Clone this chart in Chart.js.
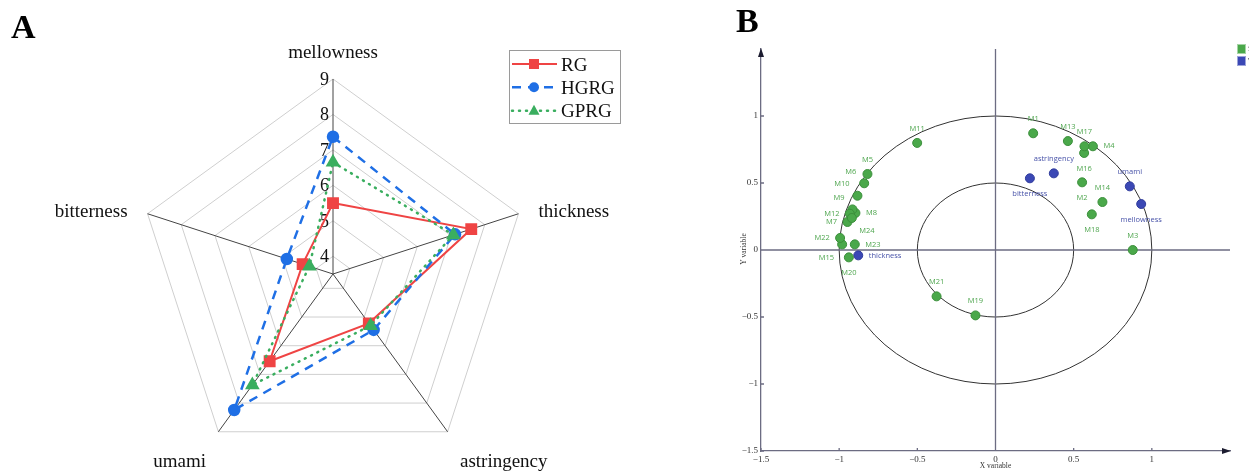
<!DOCTYPE html>
<html lang="en">
<head>
<meta charset="UTF-8">
<title>Radar and correlation circle</title>
<script src="https://cdn.jsdelivr.net/npm/chart.js"></script>
<style>
    body { margin: 0; background: #fff; width: 1249px; height: 471px; overflow: hidden; position: relative; }
    .letter { position: absolute; z-index: 2; font: bold 34px "Liberation Serif", "Times New Roman", serif; line-height: 34px; color: #000; }
    #wrapA { position: absolute; left: 0; top: 0; width: 640px; height: 471px; }
    #wrapB { position: absolute; left: 730px; top: 0; width: 519px; height: 471px; }
</style>
</head>
<body>

<div id="wrapA"><canvas id="radarChart"></canvas></div>
<div id="wrapB"><canvas id="pcaChart"></canvas></div>
<div class="letter" style="left:11px; top:10px;">A</div>
<div class="letter" style="left:736px; top:4px;">B</div>

<script>
    // ---- panel A : sensory radar ----
    const attributes = ['mellowness', 'thickness', 'astringency', 'umami', 'bitterness'];
    const rgScores   = [5.5, 7.6, 5.22, 6.54, 4.4];
    const hgrgScores = [7.37, 7.12, 5.45, 8.24, 4.87];
    const gprgScores = [6.65, 7.07, 5.3, 7.37, 4.2];
    const radarTicks = [4, 5, 6, 7, 8, 9];

    // ---- panel B : correlation circle ----
    const sampleNames = ['M1', 'M2', 'M3', 'M4', 'M5', 'M6', 'M7', 'M8', 'M9', 'M10', 'M11', 'M12',
                         'M13', 'M14', 'M15', 'M16', 'M17', 'M18', 'M19', 'M20', 'M21', 'M22', 'M23', 'M24'];
    const sampleX = [0.241, 0.554, 0.878, 0.623, -0.819, -0.840, -0.947, -0.896, -0.915, -0.883, -0.501, -0.932,
                     0.463, 0.684, -0.981, 0.567, 0.569, 0.616, -0.128, -0.938, -0.377, -0.994, -0.900, -0.919];
    const sampleY = [0.871, 0.505, 0.000, 0.774, 0.567, 0.498, 0.209, 0.276, 0.303, 0.405, 0.799, 0.271,
                     0.813, 0.358, 0.042, 0.724, 0.774, 0.266, -0.488, -0.055, -0.346, 0.090, 0.042, 0.239];
    const sampleLabelSide = ['n', 's', 'n', 'e', 'n', 'nw', 'w', 'e', 'nw', 'nw', 'n', 'w',
                             'n', 'n', 'sw', 's', 'n', 's', 'n', 's', 'n', 'w', 'e', 'se'];

    const variableNames = ['mellowness', 'thickness', 'astringency', 'umami', 'bitterness'];
    const variableX = [0.932, -0.878, 0.373, 0.859, 0.220];
    const variableY = [0.343, -0.040, 0.572, 0.475, 0.535];
    const variableLabelSide = ['s', 'e', 'n', 'n', 's'];

    const axisTicks = [-1.5, -1, -0.5, 0, 0.5, 1];
    const circleRadii = [1, 0.5];

    const SERIF = '"Liberation Serif", "Times New Roman", serif';
    const SANS = '"Open Sans", "Noto Sans", sans-serif';

    // radar: tick numbers, attribute names, legend box
    const radarDecor = {
        id: 'radarDecor',
        beforeDatasetsDraw(chart) {
            const ctx = chart.ctx, r = chart.scales.r;
            ctx.save();
            ctx.fillStyle = '#111';
            ctx.font = '18px ' + SERIF;
            ctx.textAlign = 'right';
            ctx.textBaseline = 'middle';
            radarTicks.forEach(v => {
                const p = r.getPointPositionForValue(0, v);
                ctx.fillText(String(v), p.x - 4, p.y + 1);
            });

            ctx.font = '19px ' + SERIF;
            ctx.textBaseline = 'alphabetic';
            const align = ['center', 'left', 'left', 'right', 'right'];
            const shift = [0, 10, 18, 18, 10];
            attributes.forEach((name, i) => {
                const p = r.getPointPosition(i, r.drawingArea + 21);
                ctx.textAlign = align[i];
                ctx.fillText(name, p.x, p.y + shift[i]);
            });
            ctx.restore();
        },
        afterDraw(chart) {
            const ctx = chart.ctx;
            ctx.save();
            ctx.strokeStyle = '#9a9a9a';
            ctx.lineWidth = 1;
            ctx.strokeRect(509.5, 50.5, 111, 73);
            ctx.font = '19px ' + SERIF;
            ctx.fillStyle = '#111';
            ctx.textAlign = 'left';
            ctx.textBaseline = 'alphabetic';
            const rows = [64, 87.3, 110.7];
            chart.data.datasets.forEach((ds, i) => {
                const y = rows[i];
                ctx.save();
                ctx.strokeStyle = ds.borderColor;
                ctx.lineWidth = ds.borderWidth;
                ctx.lineCap = ds.borderCapStyle || 'butt';
                ctx.setLineDash(ds.borderDash || []);
                ctx.beginPath();
                ctx.moveTo(512, y);
                ctx.lineTo(557, y);
                ctx.stroke();
                ctx.setLineDash([]);
                ctx.fillStyle = ds.backgroundColor;
                ctx.beginPath();
                if (ds.pointStyle === 'rect') {
                    ctx.rect(529, y - 5, 10, 10);
                } else if (ds.pointStyle === 'circle') {
                    ctx.arc(534, y, 5, 0, Math.PI * 2);
                } else {
                    ctx.moveTo(534, y - 6);
                    ctx.lineTo(539.5, y + 4);
                    ctx.lineTo(528.5, y + 4);
                    ctx.closePath();
                }
                ctx.fill();
                ctx.restore();
                ctx.fillText(ds.label, 561, y + 6.5);
            });
            ctx.restore();
        }
    };

    new Chart(document.getElementById('radarChart'), {
        type: 'radar',
        data: {
            labels: attributes,
            datasets: [
                { label: 'RG', data: rgScores, borderColor: '#ef4444', backgroundColor: '#ef4444',
                  borderWidth: 2, pointStyle: 'rect', pointRadius: 7, fill: false, order: 2 },
                { label: 'HGRG', data: hgrgScores, borderColor: '#1f6fe5', backgroundColor: '#1f6fe5',
                  borderWidth: 2.5, borderDash: [9, 7], pointStyle: 'circle', pointRadius: 5, fill: false, order: 1 },
                { label: 'GPRG', data: gprgScores, borderColor: '#3aae5f', backgroundColor: '#3aae5f',
                  borderWidth: 2.5, borderDash: [1, 6], borderCapStyle: 'round', pointStyle: 'triangle',
                  pointRadius: 6, fill: false, order: 0 }
            ]
        },
        options: {
            responsive: true,
            maintainAspectRatio: false,
            animation: false,
            layout: { padding: { left: 138, top: 79, right: 112, bottom: 2 } },
            elements: { line: { tension: 0 }, point: { borderWidth: 1 } },
            plugins: { legend: { display: false }, tooltip: { enabled: false } },
            scales: {
                r: {
                    min: 3.5,
                    max: 9,
                    ticks: { display: false, stepSize: 1 },
                    pointLabels: { display: false },
                    grid: { color: '#cfcfcf', lineWidth: 1 },
                    angleLines: { color: '#444', lineWidth: 1 }
                }
            }
        },
        plugins: [radarDecor]
    });

    // correlation circle: circles, axes through origin, arrows, labels, legend
    const labelSides = {
        n:  { dx: 0, dy: -14.3, align: 'center' },
        s:  { dx: 0, dy: 15.5, align: 'center' },
        e:  { dx: 10.5, dy: 0, align: 'left' },
        w:  { dx: -10.3, dy: 0, align: 'right' },
        nw: { dx: -8, dy: -11.6, align: 'right' },
        se: { dx: 7.5, dy: 13, align: 'left' },
        sw: { dx: -8, dy: 13, align: 'right' }
    };
    const AXIS_COLOR = '#6c6c82';

    const pcaDecor = {
        id: 'pcaDecor',
        beforeDatasetsDraw(chart) {
            const ctx = chart.ctx, xs = chart.scales.x, ys = chart.scales.y, a = chart.chartArea;
            const cx = xs.getPixelForValue(0), cy = ys.getPixelForValue(0);
            ctx.save();
            ctx.strokeStyle = '#333';
            ctx.lineWidth = 1;
            circleRadii.forEach(rad => {
                ctx.beginPath();
                ctx.ellipse(cx, cy, xs.getPixelForValue(rad) - cx, cy - ys.getPixelForValue(rad), 0, 0, Math.PI * 2);
                ctx.stroke();
            });
            ctx.strokeStyle = AXIS_COLOR;
            ctx.lineWidth = 1.3;
            ctx.beginPath();
            ctx.moveTo(cx, a.bottom); ctx.lineTo(cx, a.top);
            ctx.moveTo(a.left, cy); ctx.lineTo(a.right, cy);
            // inward tick marks
            axisTicks.forEach(v => {
                const py = ys.getPixelForValue(v), px = xs.getPixelForValue(v);
                ctx.moveTo(a.left, py); ctx.lineTo(a.left + 3, py);
                ctx.moveTo(px, a.bottom); ctx.lineTo(px, a.bottom - 3);
            });
            ctx.stroke();
            // arrow heads
            ctx.fillStyle = '#1c1c30';
            ctx.beginPath();
            ctx.moveTo(a.left, a.top - 1); ctx.lineTo(a.left - 3, a.top + 8); ctx.lineTo(a.left + 3, a.top + 8);
            ctx.closePath();
            ctx.moveTo(a.right + 1, a.bottom); ctx.lineTo(a.right - 8, a.bottom - 3); ctx.lineTo(a.right - 8, a.bottom + 3);
            ctx.closePath();
            ctx.fill();
            ctx.restore();
        },
        afterDatasetsDraw(chart) {
            const ctx = chart.ctx;
            ctx.save();
            ctx.font = '7.5px ' + SANS;
            ctx.textBaseline = 'middle';
            const groups = [
                { names: sampleNames, sides: sampleLabelSide, color: '#4fa64f' },
                { names: variableNames, sides: variableLabelSide, color: '#4752a8' }
            ];
            groups.forEach((g, d) => {
                const meta = chart.getDatasetMeta(d);
                ctx.fillStyle = g.color;
                g.names.forEach((name, i) => {
                    const pt = meta.data[i], s = labelSides[g.sides[i]];
                    ctx.textAlign = s.align;
                    ctx.fillText(name, pt.x + s.dx, pt.y + s.dy);
                });
            });

            // axis titles
            const a = chart.chartArea;
            ctx.fillStyle = '#333';
            ctx.font = '7.5px ' + SERIF;
            ctx.textAlign = 'center';
            ctx.fillText(chart.options.scales.x.title.text, chart.scales.x.getPixelForValue(0), 466);
            ctx.save();
            ctx.translate(14, chart.scales.y.getPixelForValue(0) - 1);
            ctx.rotate(-Math.PI / 2);
            ctx.fillText(chart.options.scales.y.title.text, 0, 0);
            ctx.restore();

            // legend, cut by the right edge
            chart.data.datasets.forEach((ds, i) => {
                const y = 44 + i * 12;
                ctx.fillStyle = ds.backgroundColor;
                ctx.fillRect(507, y, 9, 10);
                ctx.strokeStyle = 'rgba(255,255,255,0.5)';
                ctx.strokeRect(507.5, y + 0.5, 8, 9);
                ctx.fillStyle = '#555';
                ctx.textAlign = 'left';
                ctx.font = '8px ' + SANS;
                ctx.fillText(ds.label, 518, y + 5);
            });
            ctx.restore();
        }
    };

    const tickText = v => (v === 1.5 ? '' : String(v).replace('-', '\u2212'));

    new Chart(document.getElementById('pcaChart'), {
        type: 'scatter',
        data: {
            datasets: [
                { label: 'Samples', data: sampleX.map((x, i) => ({ x: x, y: sampleY[i] })),
                  backgroundColor: '#4aa84a', borderColor: '#3b8f3b', borderWidth: 1, pointRadius: 4.5 },
                { label: 'Variables', data: variableX.map((x, i) => ({ x: x, y: variableY[i] })),
                  backgroundColor: '#3b48b5', borderColor: '#303c9c', borderWidth: 1, pointRadius: 4.5 }
            ]
        },
        options: {
            responsive: true,
            maintainAspectRatio: false,
            animation: false,
            layout: { padding: { left: 0, top: 49, right: 19, bottom: 0 } },
            plugins: { legend: { display: false }, tooltip: { enabled: false } },
            scales: {
                x: {
                    type: 'linear', min: -1.5, max: 1.5,
                    title: { display: false, text: 'X variable' },
                    ticks: { stepSize: 0.5, padding: 3, color: '#333', font: { family: SERIF, size: 9 }, callback: tickText },
                    grid: { display: false, drawTicks: false },
                    border: { color: AXIS_COLOR, width: 1.3 },
                    afterFit(s) { s.height = 20; s.paddingLeft = 0; s.paddingRight = 0; }
                },
                y: {
                    type: 'linear', min: -1.5, max: 1.5,
                    title: { display: false, text: 'Y variable' },
                    ticks: { stepSize: 0.5, padding: 3, color: '#333', font: { family: SERIF, size: 9 }, callback: tickText },
                    grid: { display: false, drawTicks: false },
                    border: { color: AXIS_COLOR, width: 1.3 },
                    afterFit(s) { s.width = 31; s.paddingTop = 0; s.paddingBottom = 0; }
                }
            }
        },
        plugins: [pcaDecor]
    });
</script>

</body>
</html>
